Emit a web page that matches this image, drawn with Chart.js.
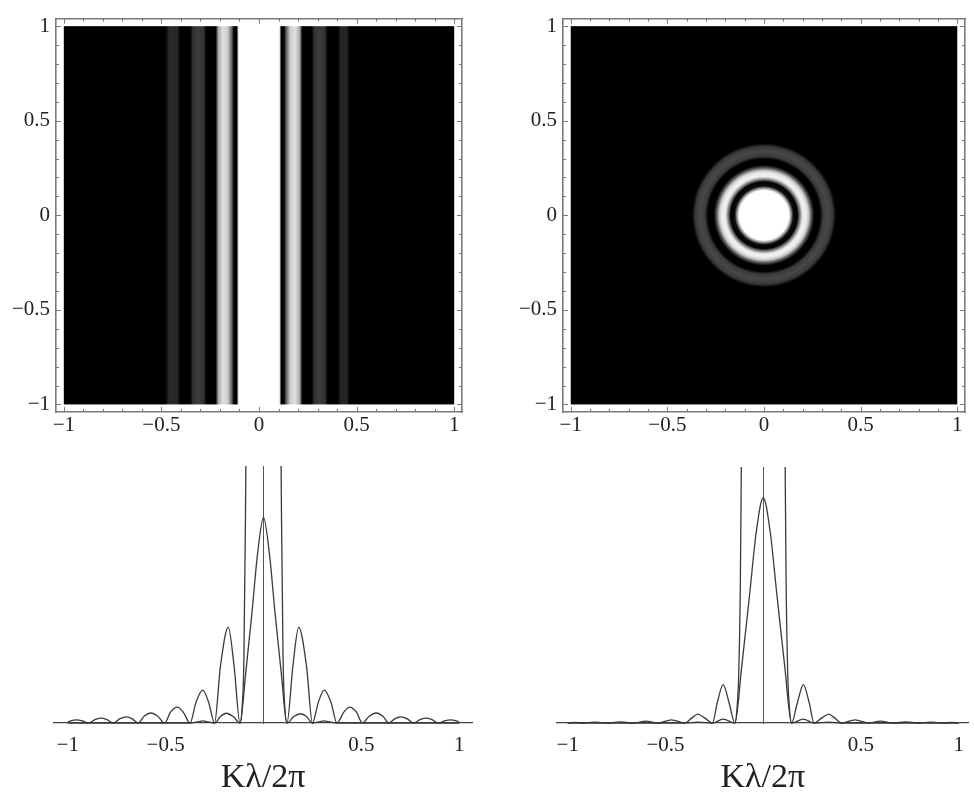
<!DOCTYPE html>
<html lang="en">
<head>
  <meta charset="UTF-8">
  <title>Diffraction patterns</title>
  <script src="https://cdn.jsdelivr.net/npm/chart.js"></script>
  <style>
    body { margin: 0; background: #fff; }
    #page { position: relative; width: 974px; height: 798px; background: #fff; overflow: hidden; }
    canvas { position: absolute; }
  </style>
</head>
<body>
  <div id="page">
    <canvas id="slitMap" width="480" height="440" style="left:0;top:0"></canvas>
    <canvas id="discMap" width="484" height="440" style="left:490px;top:0"></canvas>
    <canvas id="slitCut" width="480" height="358" style="left:0;top:440px"></canvas>
    <canvas id="discCut" width="484" height="358" style="left:490px;top:440px"></canvas>
  </div>

  <script>
    // tick positions
    const majorTicks = [-1, -0.5, 0, 0.5, 1];
    const minorTicks = [-0.9, -0.8, -0.7, -0.6, -0.4, -0.3, -0.2, -0.1, 0.1, 0.2, 0.3, 0.4, 0.6, 0.7, 0.8, 0.9];
    const cutTicks = [-1, -0.5, 0.5, 1];

    // slit density map: gray level (0-255) across x
    const slitPos  = [-1, -0.478, -0.464, -0.45, -0.418, -0.404, -0.352, -0.338, -0.31, -0.284, -0.27,
                      -0.222, -0.208, -0.185, -0.16, -0.14, -0.128, -0.114, -0.104,
                      0.104, 0.114, 0.128, 0.14, 0.16, 0.185, 0.208, 0.222,
                      0.27, 0.284, 0.31, 0.338, 0.352, 0.404, 0.418, 0.45, 0.464, 0.478, 1];
    const slitGray = [0, 0, 38, 42, 38, 0, 0, 50, 60, 50, 0,
                      0, 170, 225, 205, 100, 0, 0, 255,
                      255, 0, 0, 100, 205, 225, 170, 0,
                      0, 50, 60, 50, 0, 0, 36, 36, 0, 0, 0];

    // circular aperture density map: gray level (0-255) against radius
    const ringR    = [0, 0.128, 0.14, 0.152, 0.172, 0.186, 0.2, 0.215, 0.23, 0.245, 0.26, 0.29, 0.305, 0.33, 0.355, 0.372, 0.6];
    const ringGray = [255, 255, 150, 12, 0, 130, 235, 240, 205, 90, 0, 0, 58, 72, 58, 0, 0];

    // slit cross-section: low curve
    const slitX = [-1, -0.985, -0.955, -0.925, -0.895, -0.86, -0.83, -0.80, -0.765, -0.735, -0.70, -0.67, -0.64,
                   -0.61, -0.575, -0.54, -0.505, -0.475, -0.44, -0.41, -0.375, -0.345, -0.31, -0.28, -0.25,
                   -0.22, -0.18, -0.15, -0.12, -0.09, -0.06, -0.03, 0, 0.03, 0.06, 0.09, 0.12,
                   0.15, 0.18, 0.22, 0.25, 0.28, 0.31, 0.345, 0.375, 0.41, 0.44, 0.475, 0.505,
                   0.54, 0.575, 0.61, 0.64, 0.67, 0.70, 0.735, 0.765, 0.80, 0.83, 0.86, 0.895, 0.925, 0.955, 0.985, 1];
    const slitLow = [0.003, 0.008, 0.012, 0.008, 0, 0.013, 0.019, 0.013, 0, 0.016, 0.024, 0.016, 0,
                     0.026, 0.039, 0.026, 0, 0.042, 0.062, 0.042, 0, 0.08, 0.128, 0.08, 0,
                     0.22, 0.373, 0.22, 0, 0.2, 0.42, 0.66, 0.80, 0.66, 0.42, 0.2, 0,
                     0.22, 0.373, 0.22, 0, 0.08, 0.128, 0.08, 0, 0.042, 0.062, 0.042, 0,
                     0.026, 0.039, 0.026, 0, 0.016, 0.024, 0.016, 0, 0.013, 0.019, 0.013, 0, 0.008, 0.012, 0.008, 0.003];
    // slit cross-section: tall curve (runs off the top)
    const slitTallX = [-1, -0.375, -0.34, -0.31, -0.28, -0.25, -0.22, -0.19, -0.155, -0.12, -0.11, -0.10, -0.092, -0.085, -0.06, 0,
                       0.06, 0.085, 0.092, 0.10, 0.11, 0.12, 0.155, 0.19, 0.22, 0.25, 0.28, 0.31, 0.34, 0.375, 1];
    const slitTall  = [0, 0, 0.004, 0.008, 0.004, 0, 0.025, 0.038, 0.025, 0, 0.05, 0.25, 0.8, 1.5, 3.5, 5,
                       3.5, 1.5, 0.8, 0.25, 0.05, 0, 0.025, 0.036, 0.025, 0, 0.004, 0.008, 0.004, 0, 0];

    // circular aperture cross-section: low curve
    const discX = [-1, -0.96, -0.925, -0.86, -0.795, -0.73, -0.665, -0.60, -0.535, -0.47, -0.40, -0.365, -0.335, -0.30, -0.26,
                   -0.235, -0.205, -0.175, -0.145, -0.11, -0.07, -0.035, 0, 0.035, 0.07, 0.11, 0.145,
                   0.175, 0.205, 0.235, 0.26, 0.30, 0.335, 0.365, 0.40, 0.47, 0.535, 0.60, 0.665, 0.73, 0.795, 0.86, 0.925, 0.96, 1];
    const discLow = [0.001, 0.002, 0, 0.003, 0, 0.004, 0, 0.007, 0, 0.012, 0, 0.02, 0.035, 0.02, 0,
                     0.08, 0.15, 0.08, 0, 0.22, 0.50, 0.75, 0.88, 0.75, 0.50, 0.22, 0,
                     0.08, 0.15, 0.08, 0, 0.02, 0.035, 0.02, 0, 0.012, 0, 0.007, 0, 0.004, 0, 0.003, 0, 0.002, 0.001];
    // circular aperture cross-section: tall curve
    const discTallX = [-1, -0.40, -0.335, -0.26, -0.205, -0.145, -0.135, -0.125, -0.117, -0.11, -0.08, 0,
                       0.08, 0.11, 0.117, 0.125, 0.135, 0.145, 0.205, 0.26, 0.335, 0.40, 1];
    const discTall  = [0, 0, 0.003, 0, 0.015, 0, 0.05, 0.2, 0.55, 1.2, 3, 5,
                       3, 1.2, 0.55, 0.2, 0.05, 0, 0.015, 0, 0.003, 0, 0];

    const SERIF = "'Liberation Serif', 'DejaVu Serif', serif";
    const INK = '#222';
    const FRAME = '#7a7a7a';
    const CURVE = '#3a3a3a';

    const minus = v => String(v).replace('-', '\u2212');
    const gray = g => `rgb(${g},${g},${g})`;
    const pts = (xs, ys) => xs.map((x, i) => ({ x, y: ys[i] }));

    // paints the density map inside x,y in [-1,1]
    function densityPainter(kind, pos, level) {
      return {
        id: 'density',
        beforeDatasetsDraw(chart) {
          const { ctx, scales: { x, y } } = chart;
          const x0 = x.getPixelForValue(-1), x1 = x.getPixelForValue(1);
          const y0 = y.getPixelForValue(1), y1 = y.getPixelForValue(-1);
          let grad;
          if (kind === 'strip') {
            grad = ctx.createLinearGradient(x0, 0, x1, 0);
            pos.forEach((p, i) => grad.addColorStop((p + 1) / 2, gray(level[i])));
          } else {
            const cx = x.getPixelForValue(0), cy = y.getPixelForValue(0);
            const outer = pos[pos.length - 1];
            const R = x.getPixelForValue(outer) - cx;
            grad = ctx.createRadialGradient(cx, cy, 0, cx, cy, R);
            pos.forEach((p, i) => grad.addColorStop(p / outer, gray(level[i])));
          }
          ctx.save();
          ctx.fillStyle = grad;
          ctx.fillRect(x0, y0, x1 - x0, y1 - y0);
          ctx.restore();
        }
      };
    }

    // small inward ticks on all four frame edges
    const frameTicks = {
      id: 'frameTicks',
      afterDraw(chart) {
        const { ctx, chartArea: a, scales: { x, y } } = chart;
        ctx.save();
        ctx.strokeStyle = FRAME;
        ctx.lineWidth = 1;
        const mark = (v, len) => {
          const px = Math.round(x.getPixelForValue(v)) + 0.5;
          const py = Math.round(y.getPixelForValue(v)) + 0.5;
          ctx.beginPath();
          ctx.moveTo(px, a.bottom); ctx.lineTo(px, a.bottom - len);
          ctx.moveTo(px, a.top); ctx.lineTo(px, a.top + len);
          ctx.moveTo(a.left, py); ctx.lineTo(a.left + len, py);
          ctx.moveTo(a.right, py); ctx.lineTo(a.right - len, py);
          ctx.stroke();
        };
        minorTicks.forEach(v => mark(v, 3));
        majorTicks.forEach(v => mark(v, 5));
        ctx.restore();
      }
    };

    function frameAxis(position, size, labels, padding) {
      return {
        type: 'linear',
        position,
        min: -1.04,
        max: 1.04,
        grid: { display: false, drawTicks: false },
        border: { display: true, color: FRAME, width: 1.6 },
        ticks: {
          display: labels,
          padding,
          color: INK,
          font: { family: SERIF, size: 21 },
          callback: v => minus(v)
        },
        afterBuildTicks: s => { s.ticks = majorTicks.map(v => ({ value: v })); },
        afterFit: s => { if (s.isHorizontal()) s.height = size; else s.width = size; }
      };
    }

    function densityChart(id, painter, left, right) {
      return new Chart(document.getElementById(id), {
        type: 'scatter',
        data: { datasets: [] },
        options: {
          responsive: false,
          animation: false,
          events: [],
          plugins: { legend: { display: false }, tooltip: { enabled: false } },
          scales: {
            x: frameAxis('bottom', 28, true, 1),
            x2: frameAxis('top', 6, false, 0),
            y: frameAxis('left', left, true, 6),
            y2: frameAxis('right', right, false, 0)
          }
        },
        plugins: [painter, frameTicks]
      });
    }

    function cutChart(id, low, tall, xMin, xMax, pad) {
      const line = data => ({
        data,
        borderColor: CURVE,
        borderWidth: 1.3,
        pointRadius: 0,
        fill: false,
        cubicInterpolationMode: 'monotone',
        clip: { left: 2, right: 2, top: 0, bottom: 3 }
      });
      return new Chart(document.getElementById(id), {
        type: 'line',
        data: { datasets: [line(low), line(tall)] },
        options: {
          responsive: false,
          animation: false,
          events: [],
          layout: { padding: pad },
          plugins: { legend: { display: false }, tooltip: { enabled: false } },
          scales: {
            x: {
              type: 'linear',
              position: 'bottom',
              min: xMin,
              max: xMax,
              grid: { display: false, drawTicks: false },
              border: { display: true, color: '#444', width: 1.3 },
              ticks: {
                padding: 10,
                color: INK,
                font: { family: SERIF, size: 21 },
                callback: v => minus(v)
              },
              title: {
                display: true,
                text: 'K\u03bb/2\u03c0',
                color: INK,
                font: { family: SERIF, size: 34 },
                padding: 0
              },
              afterBuildTicks: s => { s.ticks = cutTicks.map(v => ({ value: v })); },
              afterFit: s => { s.height = 75; }
            },
            y: {
              type: 'linear',
              position: { x: 0 },
              min: 0,
              max: 1,
              grid: { display: false, drawTicks: false },
              border: { display: true, color: '#555', width: 1 },
              ticks: { display: false }
            }
          }
        }
      });
    }

    densityChart('slitMap', densityPainter('strip', slitPos, slitGray), 56, 18);
    densityChart('discMap', densityPainter('ring', ringR, ringGray), 73, 9);
    cutChart('slitCut', pts(slitX, slitLow), pts(slitTallX, slitTall), -1.07, 1.065,
             { left: 54, right: 8, top: 26, bottom: 0 });
    cutChart('discCut', pts(discX, discLow), pts(discTallX, discTall), -1.055, 1.05,
             { left: 67, right: 1, top: 27, bottom: 0 });
  </script>
</body>
</html>
